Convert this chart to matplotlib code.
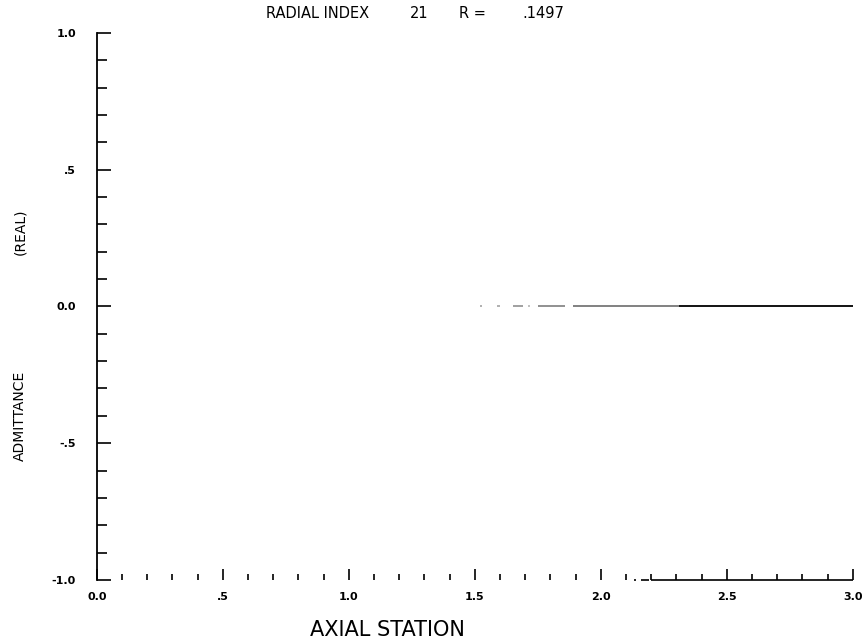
import numpy as np
import matplotlib.pyplot as plt

# admittance (real part) along the axial stations
seg_x0 = [1.52, 1.59, 1.65, 1.71, 1.75, 1.89, 2.31]
seg_x1 = [1.53, 1.60, 1.69, 1.72, 1.86, 2.31, 3.00]
seg_y = [0.0, 0.0, 0.0, 0.0, 0.0, 0.0, 0.0]
seg_gray = ["#aaaaaa", "#aaaaaa", "#999999", "#bbbbbb", "#888888", "#777777", "#000000"]

low_x0 = [2.13, 2.16, 2.20]
low_x1 = [2.14, 2.19, 3.00]
low_y = [-1.0, -1.0, -1.0]

xt = [0.0, 0.5, 1.0, 1.5, 2.0, 2.5, 3.0]
xl = ["0.0", ".5", "1.0", "1.5", "2.0", "2.5", "3.0"]
yt = [-1.0, -0.5, 0.0, 0.5, 1.0]
yl = ["-1.0", "-.5", "0.0", ".5", "1.0"]

fig = plt.figure(figsize=(8.64, 6.44), dpi=100)
ax = fig.add_axes([0.112, 0.0994, 0.875, 0.8496])

for a, b, y, c in zip(seg_x0, seg_x1, seg_y, seg_gray):
    ax.plot([a, b], [y, y], color=c, lw=1.3, solid_capstyle="butt")
for a, b, y in zip(low_x0, low_x1, low_y):
    ax.plot([a, b], [y, y], color="black", lw=1.2, solid_capstyle="butt", clip_on=False)

ax.set_xlim(0, 3.0)
ax.set_ylim(-1.0, 1.0)

for s in ["top", "right", "bottom"]:
    ax.spines[s].set_visible(False)
ax.spines["left"].set_linewidth(1.3)

ax.set_xticks(xt)
ax.set_xticklabels(xl, fontsize=8, fontweight="bold")
ax.set_xticks(np.arange(0, 3.01, 0.1), minor=True)
ax.set_yticks(yt)
ax.set_yticklabels(yl, fontsize=8, fontweight="bold")
ax.set_yticks(np.arange(-1.0, 1.01, 0.1), minor=True)

ax.tick_params(axis="x", which="major", direction="in", length=8, width=1.2, pad=9)
ax.tick_params(axis="x", which="minor", direction="in", length=4, width=1.2)
ax.tick_params(axis="y", which="major", direction="in", length=10, width=1.2, pad=15)
ax.tick_params(axis="y", which="minor", direction="in", length=7, width=1.2)

# title pieces
fig.text(266 / 864, 1 - 14 / 644, "RADIAL INDEX", fontsize=10.5, va="center", ha="left")
fig.text(410 / 864, 1 - 14 / 644, "21", fontsize=10.5, va="center", ha="left")
fig.text(459 / 864, 1 - 14 / 644, "R =", fontsize=10.5, va="center", ha="left")
fig.text(522 / 864, 1 - 14 / 644, ".1497", fontsize=10.5, va="center", ha="left")

fig.text(387 / 864, 1 - 630 / 644, "AXIAL STATION", fontsize=15, va="center", ha="center")
fig.text(20 / 864, 1 - 416 / 644, "ADMITTANCE", fontsize=10, rotation=90, va="center", ha="center")
fig.text(20 / 864, 1 - 232 / 644, "(REAL)", fontsize=10, rotation=90, va="center", ha="center")

fig.savefig("out.png", dpi=100)
